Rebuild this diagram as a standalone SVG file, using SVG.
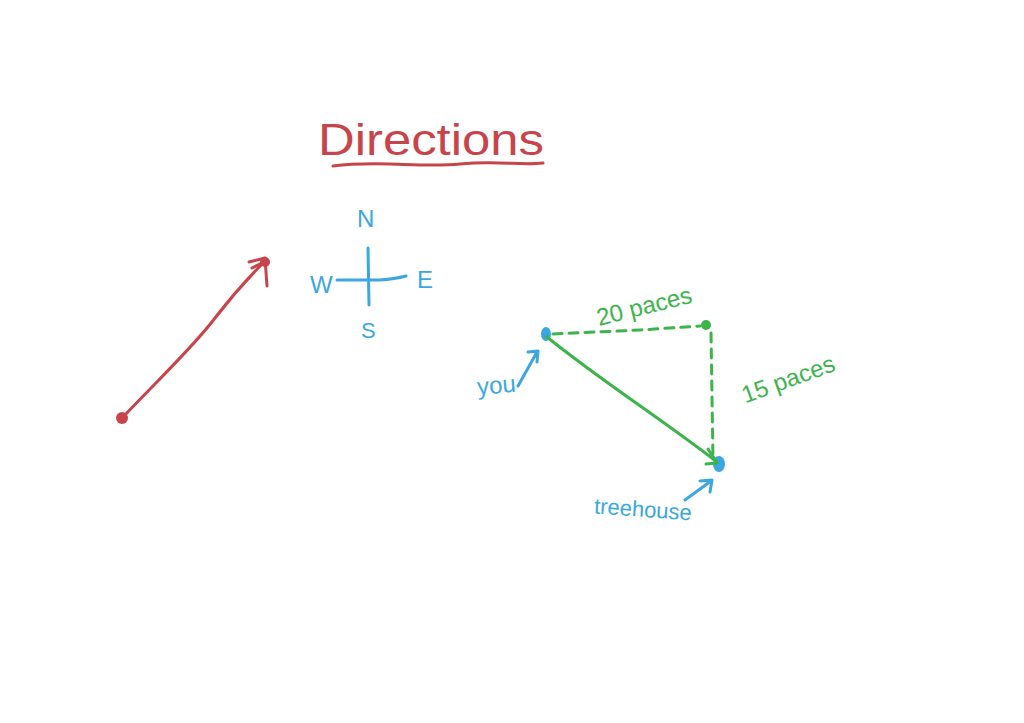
<svg xmlns="http://www.w3.org/2000/svg" width="1024" height="723" viewBox="0 0 1024 723">
<style>
.red{stroke:#c8444b;fill:none;stroke-width:3;stroke-linecap:round;stroke-linejoin:round}
.blue{stroke:#3ba7e0;fill:none;stroke-width:3;stroke-linecap:round;stroke-linejoin:round}
.green{stroke:#3db34c;fill:none;stroke-width:3;stroke-linecap:round;stroke-linejoin:round}
.dash{stroke-dasharray:9 7}
.t{font-family:"Liberation Sans",Arial,sans-serif}
.tr{fill:#c8444b}.tb{fill:#3ba7e0}.tg{fill:#3db34c}
</style>
<rect width="1024" height="723" fill="#ffffff"/>
<g id="title">
<text class="t tr" x="318" y="155" font-size="44" textLength="226" lengthAdjust="spacingAndGlyphs">Directions</text>
<path class="red" d="M333,166 C380,160 420,168 460,164 C500,160 520,166 543,163"/>
</g>
<g id="compass">
<path class="blue" d="M368,248 L369,305"/>
<path class="blue" d="M337,280 L380,280 Q395,279 406,276"/>
<text class="t tb" x="357" y="227" font-size="24">N</text>
<text class="t tb" x="310" y="293" font-size="24">W</text>
<text class="t tb" x="417" y="288" font-size="24">E</text>
<text class="t tb" x="361" y="338" font-size="22">S</text>
</g>
<g id="red-arrow">
<circle cx="122" cy="418" r="6" fill="#c8444b"/>
<path class="red" d="M122,418 C160,378 195,345 215,318 C235,292 250,276 265,261"/>
<path class="red" d="M249,262 L265,258 L267,286"/>
<path class="red" d="M252,268 L264,262"/>
<circle cx="265" cy="262" r="5" fill="#c8444b"/>
</g>
<g id="you">
<ellipse cx="546" cy="334" rx="5" ry="7" fill="#3ba7e0"/>
<text class="t tb" x="477" y="393" font-size="24" transform="rotate(-5 500 385)">you</text>
<path class="blue" d="M518,386 L537,352 M528,352 L538,351 L537,362"/>
</g>
<g id="corner">
<circle cx="706" cy="325" r="5" fill="#3db34c"/>
<text class="t tg" x="594" y="314" font-size="24" transform="rotate(-14 645 300)">20 paces</text>
<text class="t tg" x="734" y="390" font-size="24" transform="rotate(-20 778 365)">15 paces</text>
</g>
<g id="treehouse">
<ellipse cx="719" cy="464" rx="6" ry="8" fill="#3ba7e0"/>
<text class="t tb" x="594" y="517" font-size="22" transform="rotate(4 645 510)">treehouse</text>
<path class="blue" d="M685,500 L711,481 M700,481 L712,480 L710,492"/>
</g>
<g id="connectors">
<path class="green dash" d="M553,334 L640,330 L700,326"/>
<path class="green dash" d="M711,333 L713,460"/>
<path class="green" d="M547,337 C600,380 660,418 717,462"/>
<path class="green" d="M708,449 L717,463 L706,464"/>
</g>
</svg>
